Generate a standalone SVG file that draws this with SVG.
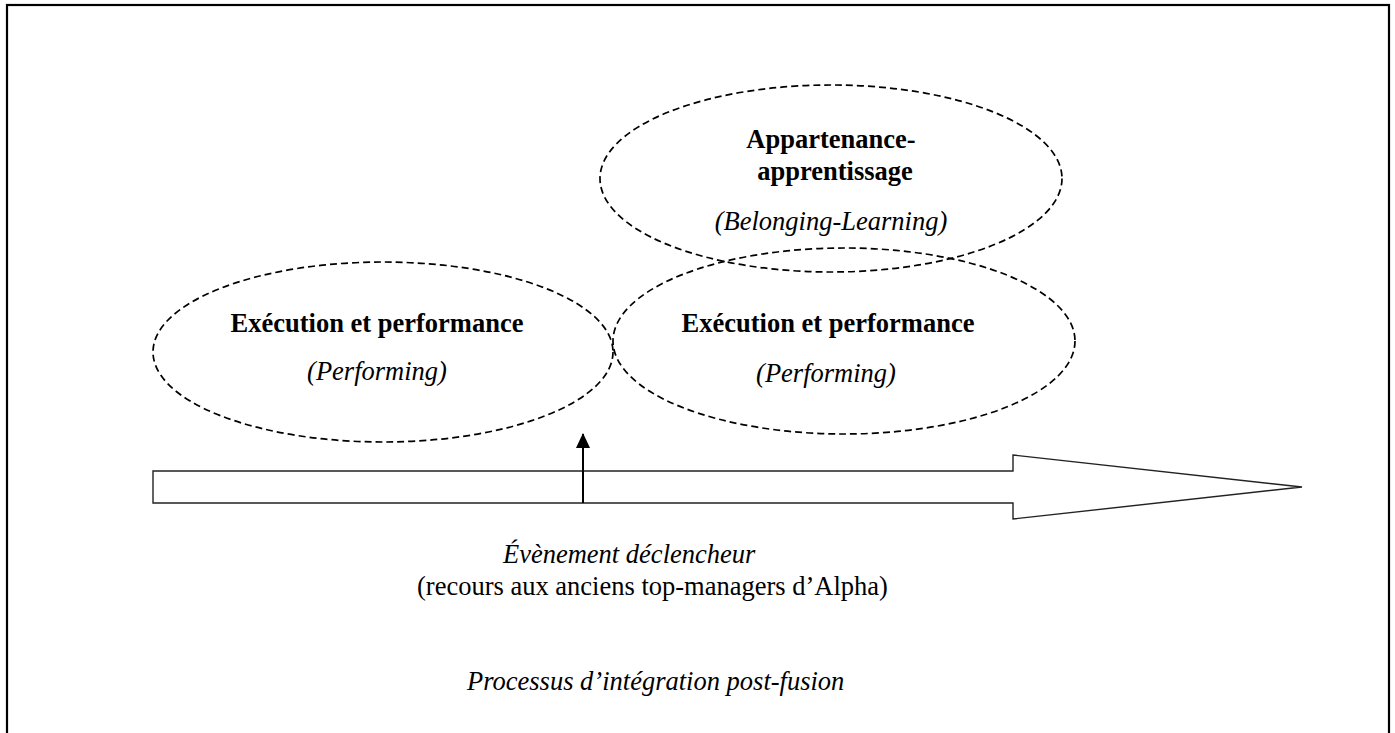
<svg xmlns="http://www.w3.org/2000/svg" width="1395" height="733" viewBox="0 0 1395 733">
<style>
.el{fill:none;stroke:#000;stroke-width:1.7;stroke-dasharray:7 4}
.b{font-family:"Liberation Serif","Times New Roman",serif;font-size:26.5px;font-weight:bold;fill:#000;text-anchor:middle}
.i{font-family:"Liberation Serif","Times New Roman",serif;font-size:26.5px;font-style:italic;fill:#000;text-anchor:middle}
.r{font-family:"Liberation Serif","Times New Roman",serif;font-size:26.5px;fill:#000}
</style>
<defs>
<marker id="ah" markerWidth="16" markerHeight="14" refX="14" refY="7" orient="auto" markerUnits="userSpaceOnUse">
<path d="M0,0 L15,7 L0,14 Z" fill="#000"/>
</marker>
</defs>
<rect x="7" y="5" width="1382" height="760" fill="#fff" stroke="#000" stroke-width="2.2"/>
<g id="node-left">
<ellipse class="el" cx="383" cy="352" rx="230" ry="90"/>
<text class="b" x="377" y="332">Exécution et performance</text>
<text class="i" x="377" y="380">(Performing)</text>
</g>
<g id="node-top">
<ellipse class="el" cx="831" cy="178.5" rx="231" ry="93.5"/>
<text class="b" x="831" y="148">Appartenance-</text>
<text class="b" x="835" y="180">apprentissage</text>
<text class="i" x="831" y="230">(Belonging-Learning)</text>
</g>
<g id="node-right">
<ellipse class="el" cx="844" cy="341" rx="231" ry="93"/>
<text class="b" x="828" y="332">Exécution et performance</text>
<text class="i" x="826" y="382">(Performing)</text>
</g>
<g id="node-process">
<path d="M153,471 L1013,471 L1013,455 L1302,487 L1013,519 L1013,503 L153,503 Z" fill="#fff" stroke="#222" stroke-width="1.4"/>
</g>
<g id="connectors">
<line x1="583" y1="503" x2="583" y2="434" stroke="#000" stroke-width="2" marker-end="url(#ah)"/>
</g>
<g id="labels">
<text class="r" x="503" y="563" font-style="italic">Évènement déclencheur</text>
<text class="r" x="417" y="595">(recours aux anciens top-managers d’Alpha)</text>
<text class="r" x="467" y="690" font-style="italic">Processus d’intégration post-fusion</text>
</g>
</svg>
